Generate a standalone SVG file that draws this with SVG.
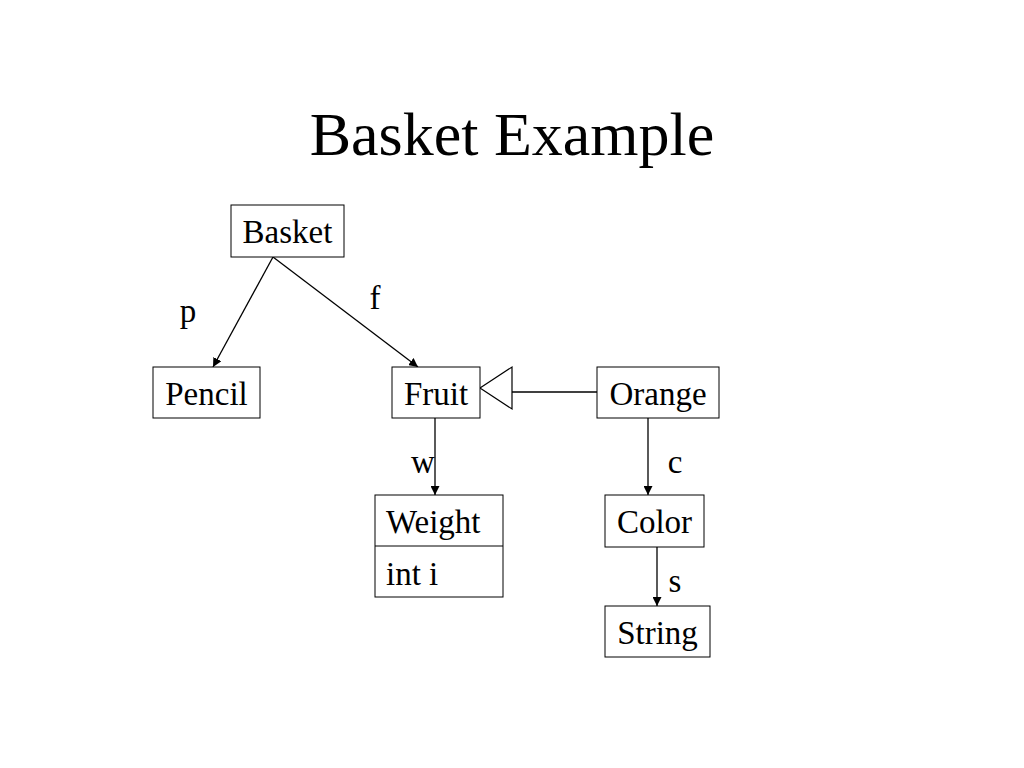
<svg xmlns="http://www.w3.org/2000/svg" width="1024" height="768" viewBox="0 0 1024 768">
<defs>
<style>
.box{fill:#fff;stroke:#000;stroke-width:1}
.t{font-family:"Liberation Serif","Times New Roman",serif;font-size:33px;fill:#000}
.c{text-anchor:middle}
.ln{stroke:#000;stroke-width:1.3;fill:none}
</style>
<marker id="ah" viewBox="0 0 10 10" refX="10" refY="5" markerWidth="9" markerHeight="9" markerUnits="userSpaceOnUse" orient="auto">
<path d="M0,0 L10,5 L0,10 z" fill="#000"/>
</marker>
</defs>
<rect width="1024" height="768" fill="#fff"/>
<text x="512" y="155" class="c" style="font-family:'Liberation Serif','Times New Roman',serif;font-size:62px">Basket Example</text>
<g id="connectors">
<line class="ln" x1="273" y1="257" x2="213" y2="367" marker-end="url(#ah)"/>
<line class="ln" x1="273" y1="257" x2="418" y2="367" marker-end="url(#ah)"/>
<line class="ln" x1="435" y1="418" x2="435" y2="495" marker-end="url(#ah)"/>
<line class="ln" x1="648" y1="418" x2="648" y2="495" marker-end="url(#ah)"/>
<line class="ln" x1="657" y1="547" x2="657" y2="606" marker-end="url(#ah)"/>
<line class="ln" x1="512" y1="392" x2="597" y2="392"/>
<polygon points="480,388 512,367 512,409" fill="#fff" stroke="#000" stroke-width="1.2"/>
<text class="t" x="188" y="322" text-anchor="middle">p</text>
<text class="t" x="375" y="309" text-anchor="middle">f</text>
<text class="t" x="423" y="473" text-anchor="middle">w</text>
<text class="t" x="675" y="473" text-anchor="middle">c</text>
<text class="t" x="675" y="592" text-anchor="middle">s</text>
</g>
<g id="basket"><rect class="box" x="231" y="205" width="113" height="52"/><text class="t c" x="287.5" y="243">Basket</text></g>
<g id="pencil"><rect class="box" x="153" y="367" width="107" height="51"/><text class="t c" x="206.5" y="405">Pencil</text></g>
<g id="fruit"><rect class="box" x="392" y="367" width="88" height="51"/><text class="t c" x="436" y="405">Fruit</text></g>
<g id="orange"><rect class="box" x="597" y="367" width="122" height="51"/><text class="t c" x="658" y="405">Orange</text></g>
<g id="weight"><rect class="box" x="375" y="495" width="128" height="102"/><line x1="375" y1="546" x2="503" y2="546" stroke="#000"/><text class="t" x="386" y="533">Weight</text><text class="t" x="386" y="585">int i</text></g>
<g id="color"><rect class="box" x="605" y="495" width="99" height="52"/><text class="t c" x="654.5" y="533">Color</text></g>
<g id="string"><rect class="box" x="605" y="606" width="105" height="51"/><text class="t c" x="657.5" y="644">String</text></g>
</svg>
